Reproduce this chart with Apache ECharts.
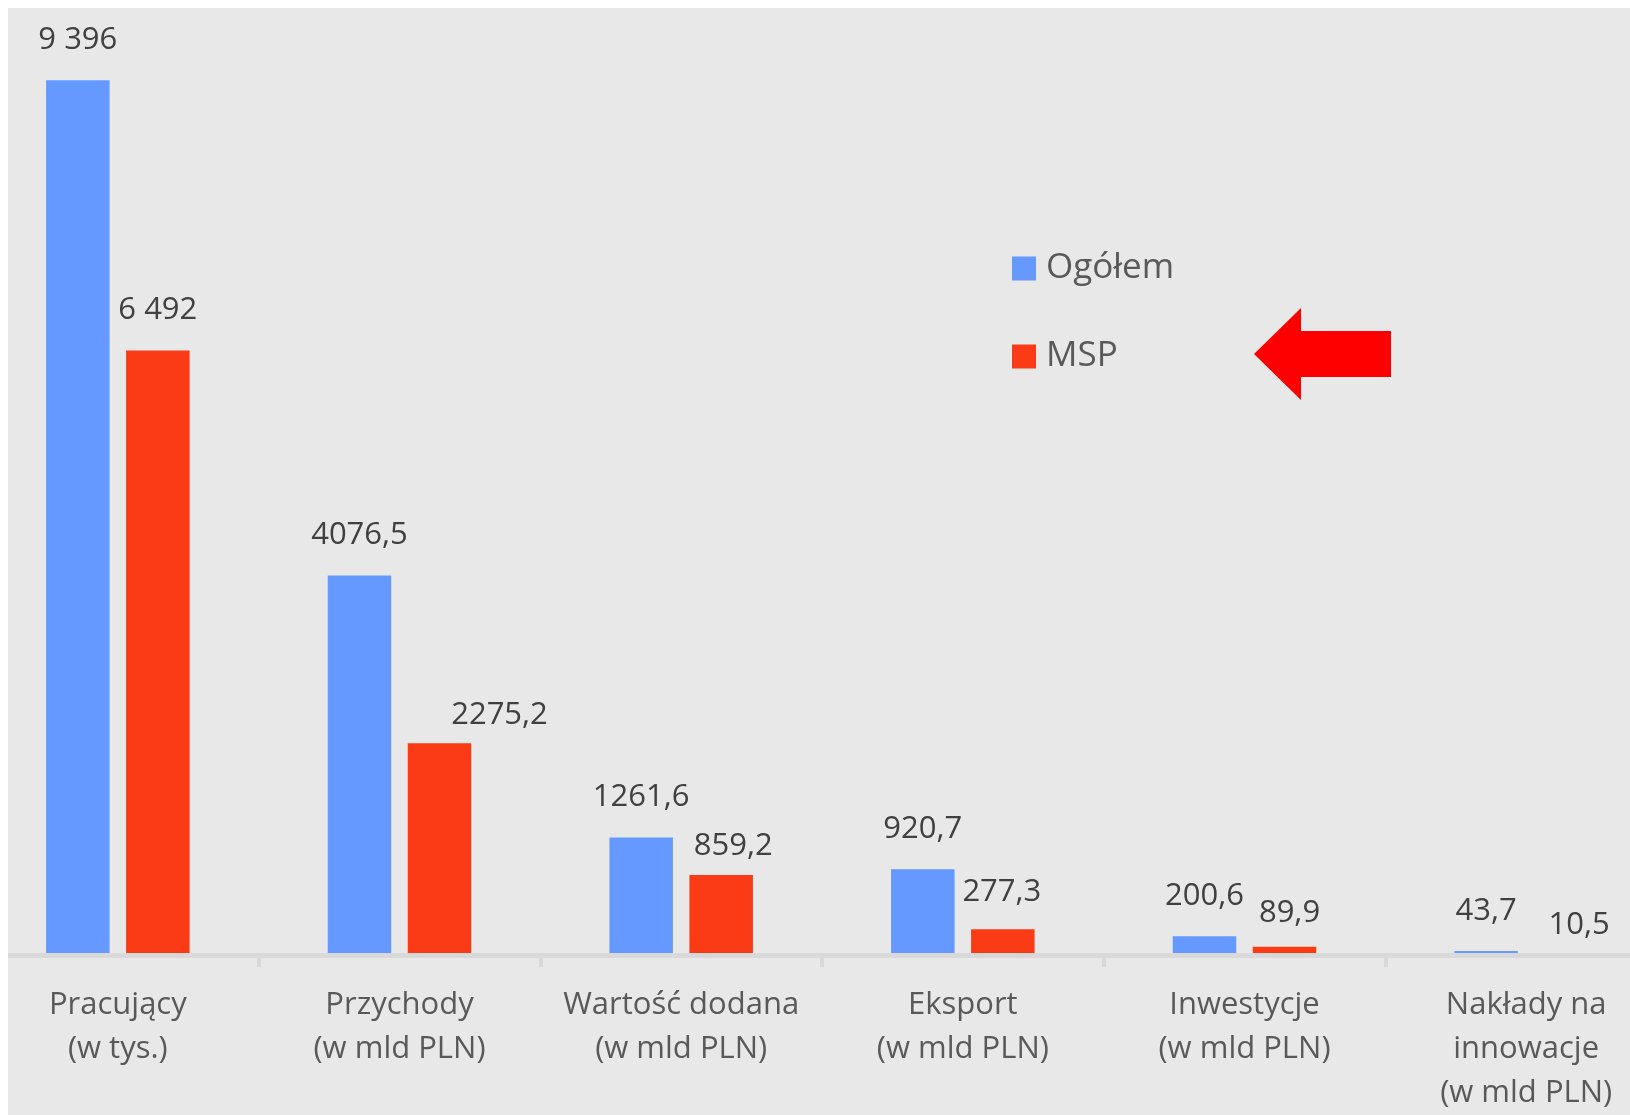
<!DOCTYPE html>
<html>
<head>
<meta charset="utf-8">
<title>Ogółem vs MSP</title>
<script src="https://cdn.jsdelivr.net/npm/echarts@6/dist/echarts.min.js"></script>
<style>
  html, body { margin: 0; padding: 0; background: #ffffff; }
  .wrap {
    position: absolute;
    left: 8px;
    top: 8px;
    width: 1622px;
    height: 1107px;
    background: #e8e8e8;
    overflow: hidden;
  }
  /* plot is wider than the picture: first and last category are cut at the edges */
  #chart {
    position: absolute;
    left: -31px;
    top: -8px;
    width: 1690px;
    height: 1115px;
  }
</style>
</head>
<body>
<div class="wrap">
  <div id="chart"></div>
</div>
<script>
var categories = [
  'Pracujący\n(w tys.)',
  'Przychody\n(w mld PLN)',
  'Wartość dodana\n(w mld PLN)',
  'Eksport\n(w mld PLN)',
  'Inwestycje\n(w mld PLN)',
  'Nakłady na\ninnowacje\n(w mld PLN)'
]
var ogolem = [9396, 4076.5, 1261.6, 920.7, 200.6, 43.7]
var msp = [6492, 2275.2, 859.2, 277.3, 89.9, 10.5]

// label nudges (px) for the MSP values, as they were moved by hand in the original
var mspLabelShift = [[0, 0], [60, 12], [12, 11], [-1, 3], [5, 7], [13, 11]]

var FONT = '"Open Sans", sans-serif'

function fmt(v) {
  if (Number.isInteger(v)) {
    return String(v).replace(/\B(?=(\d{3})+(?!\d))/g, ' ')
  }
  return v.toFixed(1).replace('.', ',')
}

var valueLabel = {
  show: true,
  position: 'top',
  distance: 24,
  fontFamily: FONT,
  fontSize: 31,
  lineHeight: 32,
  color: '#404040',
  formatter: function(p) { return fmt(p.value) }
}

var chart = echarts.init(document.getElementById('chart'))

chart.setOption({
  animation: false,
  grid: {
    left: 0,
    right: 0,
    top: 24,
    bottom: 159
  },
  legend: {
    orient: 'vertical',
    left: 1030,
    top: 246,
    itemWidth: 24,
    itemHeight: 24,
    itemGap: 53,
    icon: 'rect',
    data: ['Ogółem', 'MSP'],
    textStyle: {
      fontFamily: FONT,
      fontSize: 35,
      lineHeight: 35,
      color: '#595959',
      padding: [0, 0, 0, 5]
    }
  },
  xAxis: {
    type: 'category',
    z: 5,
    data: categories,
    axisLine: {
      lineStyle: { color: '#d9d9d9', width: 5 }
    },
    axisTick: {
      show: true,
      length: 12,
      lineStyle: { color: '#d9d9d9', width: 4 }
    },
    axisLabel: {
      interval: 0,
      margin: 28,
      fontFamily: FONT,
      fontSize: 31,
      lineHeight: 44,
      color: '#595959'
    }
  },
  yAxis: {
    type: 'value',
    min: 0,
    max: 10000,
    show: false
  },
  series: [{
    name: 'Ogółem',
    type: 'bar',
    barWidth: 63.5,
    barGap: '26%',
    itemStyle: { color: '#6699ff' },
    label: valueLabel,
    data: ogolem
  }, {
    name: 'MSP',
    type: 'bar',
    barWidth: 63.5,
    barGap: '26%',
    itemStyle: { color: '#fb3a16' },
    label: valueLabel,
    data: msp.map(function(v, i) {
      return { value: v, label: { offset: mspLabelShift[i] } }
    })
  }],
  graphic: [{
    // red arrow pointing at the MSP legend entry
    type: 'polygon',
    shape: {
      points: [[1277, 354], [1324, 308], [1324, 331], [1414, 331],
        [1414, 377], [1324, 377], [1324, 400]]
    },
    style: { fill: '#ff0000' }
  }]
})
</script>
</body>
</html>
